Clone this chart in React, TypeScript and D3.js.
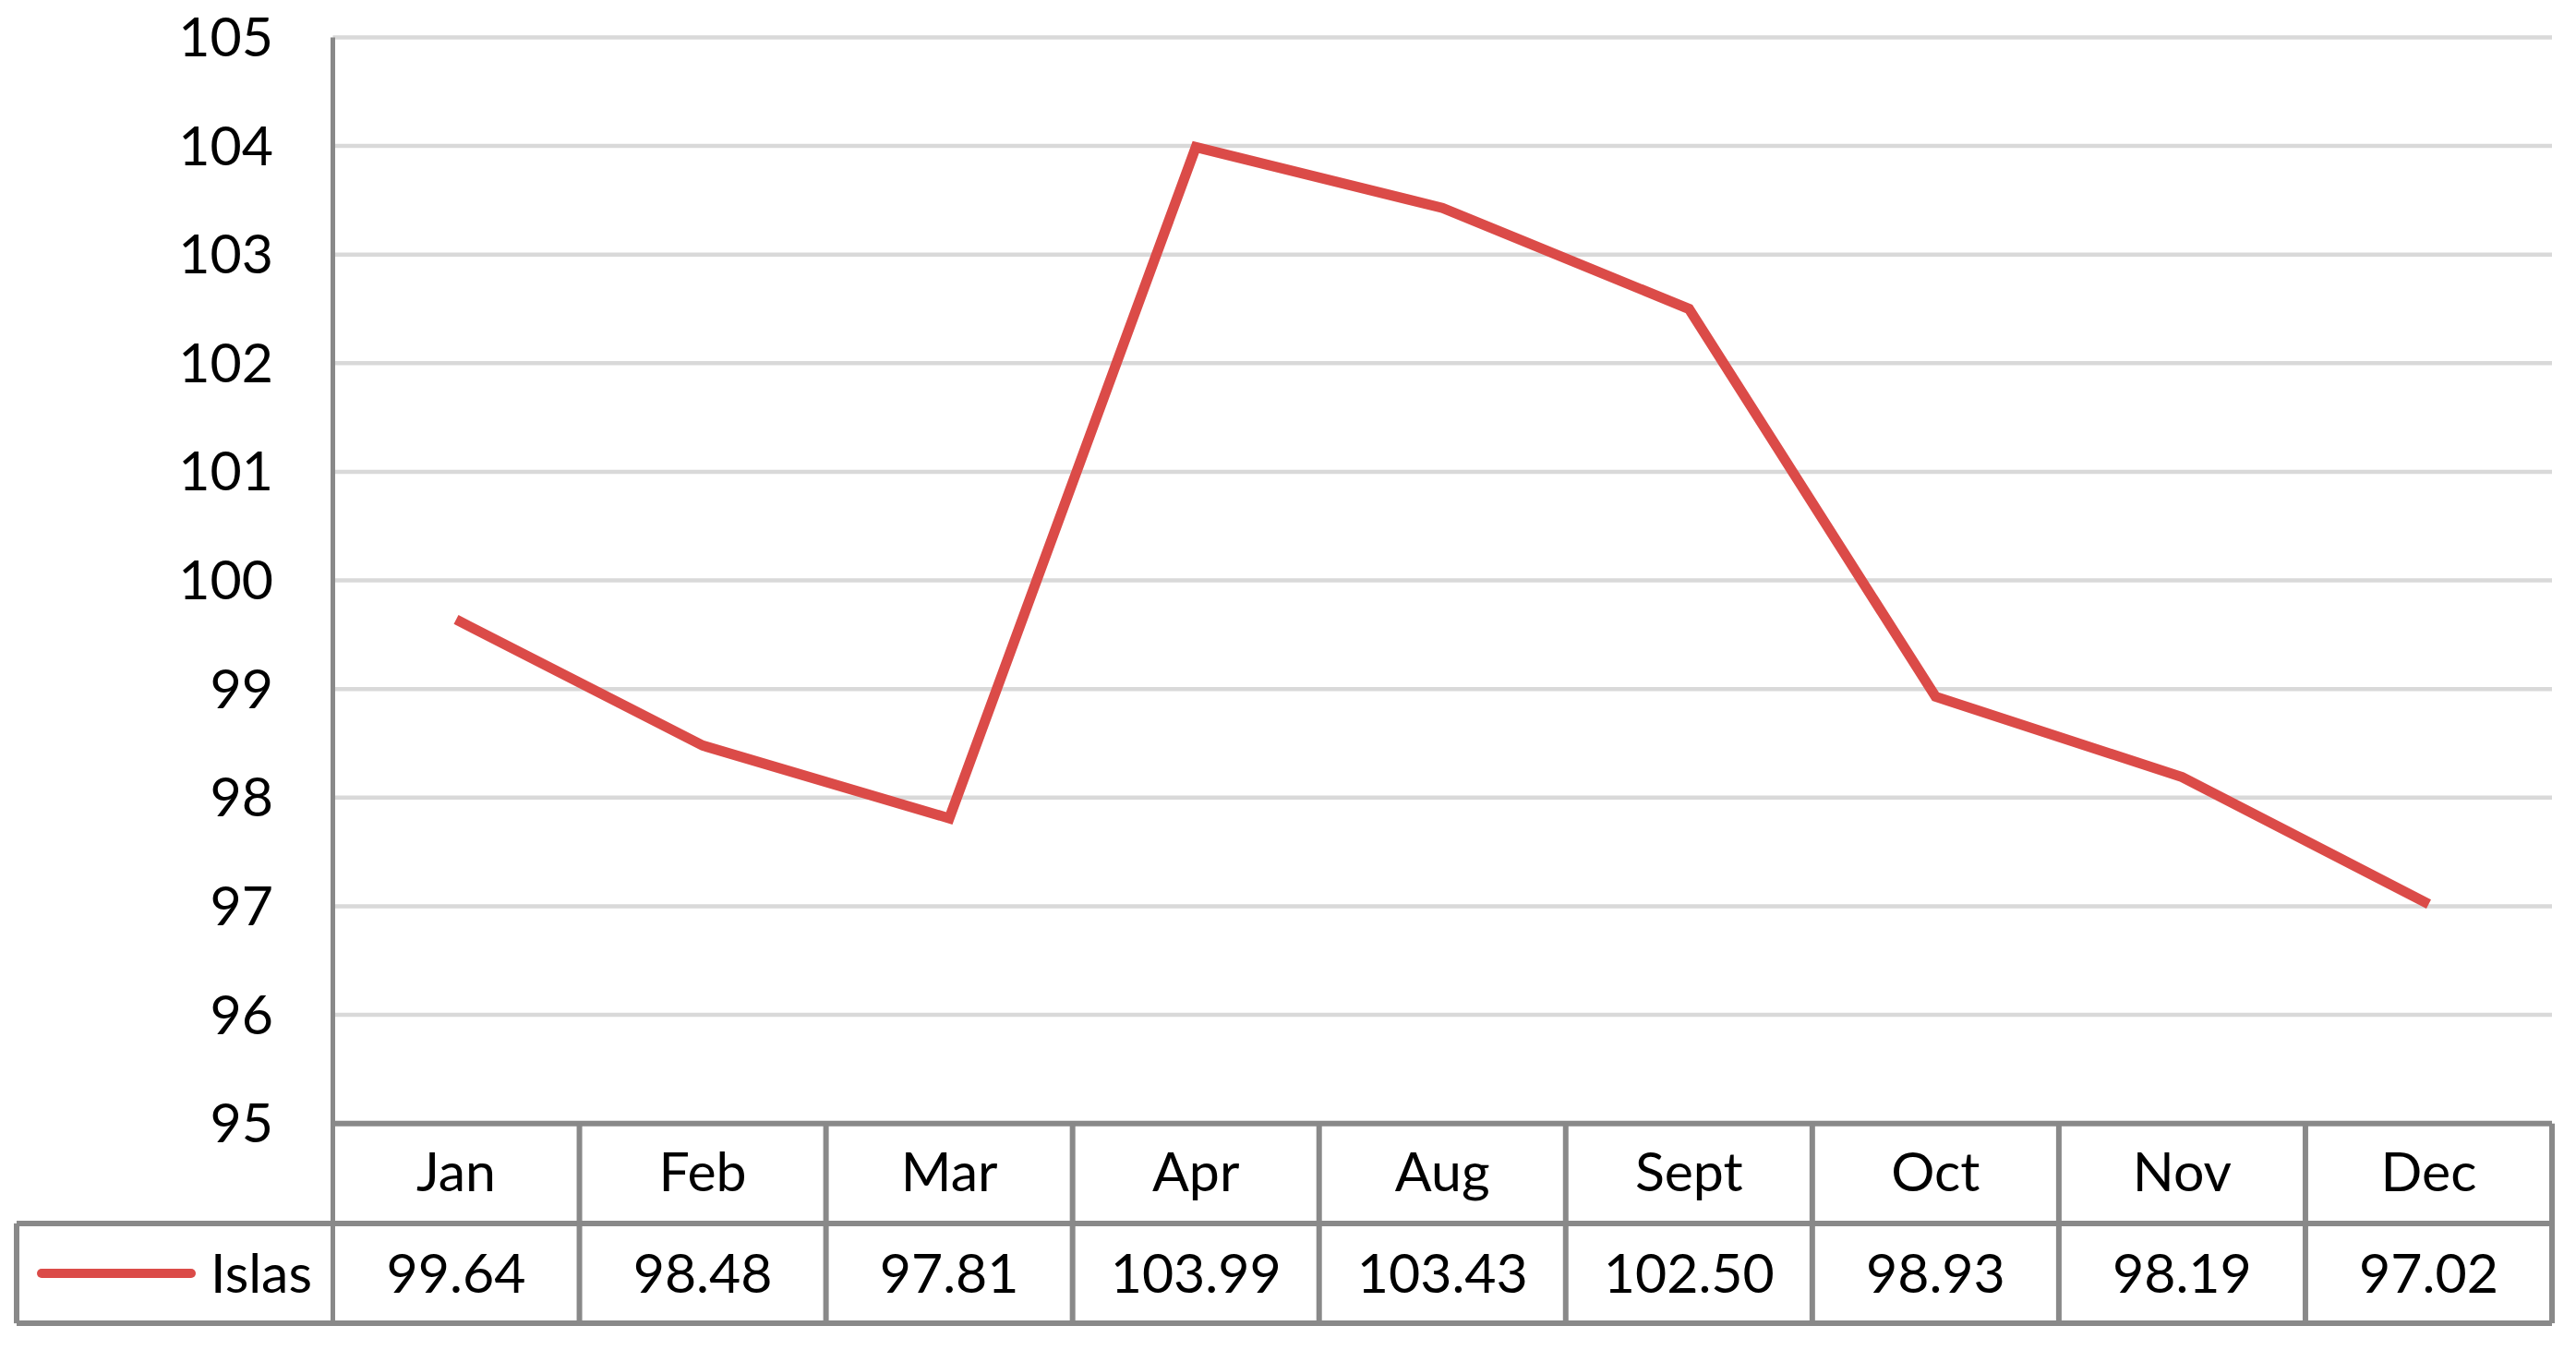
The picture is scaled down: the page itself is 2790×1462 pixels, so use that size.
import React from "react";
import * as d3 from "d3";

const categories = ["Jan", "Feb", "Mar", "Apr", "Aug", "Sept", "Oct", "Nov", "Dec"];
const values = [99.64, 98.48, 97.81, 103.99, 103.43, 102.5, 98.93, 98.19, 97.02];
const seriesName = "Islas";
const yTicks = [95, 96, 97, 98, 99, 100, 101, 102, 103, 104, 105];

const W = 2790;
const H = 1462;
const left = 360.5;
const right = 2764;
const top = 40.5;
const bottom = 1216.7;
const rowH = 108.2;
const tableLeft = 18;
const FONT = "Lato, 'Open Sans', sans-serif";
const FS = 59;
const GRAY = "#898989";
const RED = "#db4b48";

export default function App() {
  const x = d3.scaleBand<string>().domain(categories).range([left, right]).padding(0);
  const y = d3.scaleLinear().domain([95, 105]).range([bottom, top]);
  const line = d3
    .line<number>()
    .x((_, i) => (x(categories[i]) as number) + x.bandwidth() / 2)
    .y((d) => y(d));

  const r1 = bottom;
  const r2 = bottom + rowH;
  const r3 = bottom + 2 * rowH;

  return (
    <svg width={W} height={H} style={{ position: "absolute", left: 0, top: 0, background: "#fff" }}>
      <rect x={0} y={0} width={W} height={H} fill="#fff" />
      {yTicks.map((t) => (
        <g key={t}>
          {t !== 95 && (
            <line x1={left} x2={right} y1={y(t)} y2={y(t)} stroke="#d9d9d9" strokeWidth={4.5} />
          )}
          <text
            x={296}
            y={y(t) - 2}
            textAnchor="end"
            dominantBaseline="central"
            fontFamily={FONT}
            fontSize={FS}
            fill="#000"
          >
            {t}
          </text>
        </g>
      ))}
      {/* y axis line */}
      <line x1={left} x2={left} y1={top} y2={r3} stroke={GRAY} strokeWidth={5} />
      {/* table horizontal lines */}
      <line x1={left} x2={right} y1={r1} y2={r1} stroke={GRAY} strokeWidth={6} />
      <line x1={tableLeft} x2={right} y1={r2} y2={r2} stroke={GRAY} strokeWidth={6} />
      <line x1={tableLeft} x2={right} y1={r3} y2={r3} stroke={GRAY} strokeWidth={6} />
      <line x1={tableLeft} x2={tableLeft} y1={r2} y2={r3} stroke={GRAY} strokeWidth={6} />
      {categories.map((c) => {
        const x1 = (x(c) as number) + x.bandwidth();
        return <line key={"v" + c} x1={x1} x2={x1} y1={r1} y2={r3} stroke={GRAY} strokeWidth={6} />;
      })}
      {/* header and values */}
      {categories.map((c, i) => {
        const cx = (x(c) as number) + x.bandwidth() / 2;
        return (
          <g key={"t" + c}>
            <text
              x={cx}
              y={(r1 + r2) / 2 - 3}
              textAnchor="middle"
              dominantBaseline="central"
              fontFamily={FONT}
              fontSize={FS}
              fill="#000"
            >
              {c}
            </text>
            <text
              x={cx}
              y={(r2 + r3) / 2 - 2}
              textAnchor="middle"
              dominantBaseline="central"
              fontFamily={FONT}
              fontSize={FS}
              fill="#000"
            >
              {values[i].toFixed(2)}
            </text>
          </g>
        );
      })}
      {/* legend */}
      <line
        x1={45}
        x2={207}
        y1={(r2 + r3) / 2}
        y2={(r2 + r3) / 2}
        stroke={RED}
        strokeWidth={10}
        strokeLinecap="round"
      />
      <text
        x={338}
        y={(r2 + r3) / 2 - 2}
        textAnchor="end"
        dominantBaseline="central"
        fontFamily={FONT}
        fontSize={FS}
        fill="#000"
      >
        {seriesName}
      </text>
      {/* data line */}
      <path d={line(values) || ""} fill="none" stroke={RED} strokeWidth={11} strokeLinejoin="miter" />
    </svg>
  );
}
